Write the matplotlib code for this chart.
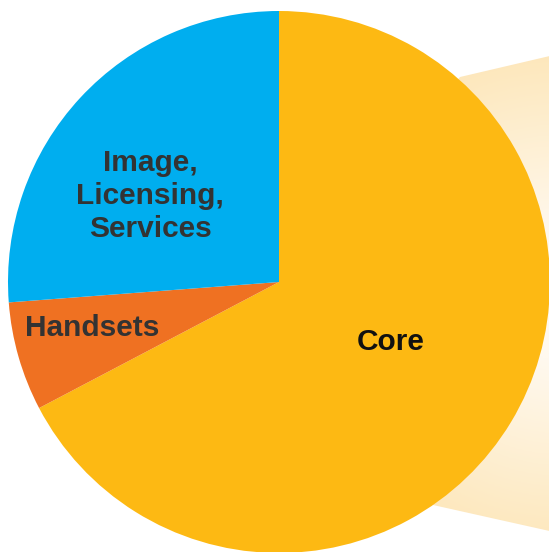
import numpy as np
import matplotlib.pyplot as plt
from matplotlib.patches import Polygon
from matplotlib.colors import LinearSegmentedColormap

# revenue share by segment (percent), drawn clockwise from 12 o'clock
segments = ['Core', 'Handsets', 'Image,\nLicensing,\nServices']
shares = [67.3, 6.5, 26.2]
colors = ['#fdb913', '#ef7122', '#00aeef']

W, H = 549, 552
cx, cy, r = 279, H - 282, 271

fig = plt.figure(figsize=(W / 100, H / 100), dpi=100)
ax = fig.add_axes([0, 0, 1, 1])

# pale fan behind the pie that opens to the right
fan = Polygon([(cx, cy), (460, H - 77), (W + 5, H - 55), (W + 5, H - 532), (433, H - 505)],
              closed=True, facecolor='none', edgecolor='none')
ax.add_patch(fan)
gx, gy = np.meshgrid(np.linspace(0, W, 300), np.linspace(0, H, 300))
dist = np.hypot(gx - 560, gy - (H - 300))
grad = np.clip((dist - 60) / 200.0, 0, 1)
cmap = LinearSegmentedColormap.from_list('fan', ['#fff9ef', '#fde6b8'])
img = ax.imshow(grad, cmap=cmap, extent=(0, W, 0, H), origin='lower', zorder=0)
img.set_clip_path(fan)

wedges, _ = ax.pie(shares, colors=colors, startangle=90, counterclock=False,
                   center=(cx, cy), radius=r, wedgeprops=dict(linewidth=0))
for w in wedges:
    w.set_zorder(2)

label_pos = [(391, H - 342), (92, H - 328), (150, H - 196)]
for name, (x, y) in zip(segments, label_pos):
    ax.text(x, y, name, ha='center', va='center', fontsize=21.5, fontweight='bold',
            family='Liberation Sans', color='#111111' if name == 'Core' else '#333333',
            linespacing=1.22, zorder=3)

ax.set_xlim(0, W)
ax.set_ylim(0, H)
ax.set_aspect('equal')
ax.set_axis_off()
fig.savefig('out.png', dpi=100)
